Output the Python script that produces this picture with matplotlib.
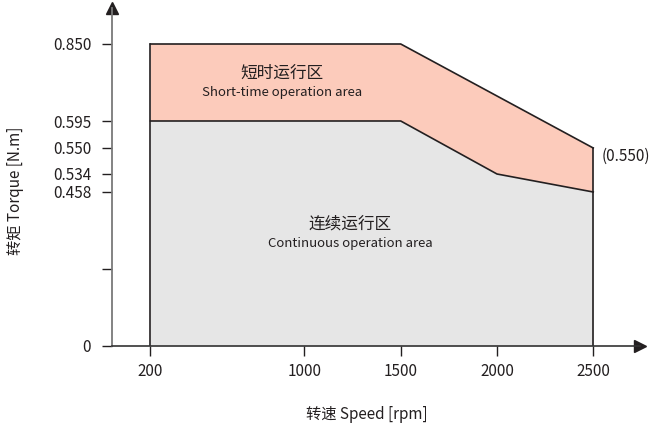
import numpy as np
import matplotlib
matplotlib.use('Agg')
import matplotlib.pyplot as plt

plt.rcParams['font.family'] = ['Noto Sans CJK SC', 'DejaVu Sans']

# data
speed_cont = [200, 1500, 2000, 2500]
torque_cont = [0.595, 0.595, 0.534, 0.458]
speed_short = [200, 1500, 2500]
torque_short = [0.850, 0.850, 0.550]
xticks = [200, 1000, 1500, 2000, 2500]
yticks = [0, 0.23, 0.458, 0.534, 0.550, 0.595, 0.850]
ylabels = ['0', '', '0.458', '0.534', '0.550', '0.595', '0.850']

# the torque axis is drawn schematically, not linear
knot_v = np.array([0, 0.458, 0.534, 0.550, 0.595, 0.850, 1.0])
knot_p = np.array([0, 154, 172, 198, 225, 302, 347])

def fwd(v):
    return np.interp(v, knot_v, knot_p)

def inv(p):
    return np.interp(p, knot_p, knot_v)

fig = plt.figure(figsize=(6.54, 4.29), dpi=100)
ax = fig.add_axes([112/654, 83/429, 528/654, 338/429])
ax.set_yscale('function', functions=(fwd, inv))
ax.set_xlim(0, 2743)
ax.set_ylim(0, inv(338))

ax.fill(speed_short + speed_cont[::-1], torque_short + torque_cont[::-1],
        color='#FCCBBB', lw=0)
ax.fill_between(speed_cont, 0, torque_cont, color='#E6E6E6', lw=0)
edge = dict(color='#231F20', lw=1.2)
ax.plot(speed_short, torque_short, **edge)
ax.plot(speed_cont, torque_cont, **edge)
ax.plot([200, 200], [0, 0.850], **edge)
ax.plot([2500, 2500], [0, 0.550], **edge)

for s in ['top', 'right']:
    ax.spines[s].set_visible(False)
ax.spines['left'].set_color('#7a7a7a')
ax.spines['left'].set_linewidth(1.3)
ax.spines['bottom'].set_color('#333333')
ax.spines['bottom'].set_linewidth(1.2)
ax.plot(1, 0, '>', color='#231F20', ms=9, transform=ax.transAxes, clip_on=False)
ax.plot(0, 1, '^', color='#231F20', ms=9, transform=ax.transAxes, clip_on=False)

ax.set_xticks(xticks)
ax.set_xticklabels([str(v) for v in xticks])
ax.set_yticks(yticks)
ax.set_yticklabels(ylabels)
ax.yaxis.set_minor_locator(plt.NullLocator())
ax.tick_params(axis='both', length=7, width=1, color='#231F20', labelsize=11,
               labelcolor='#231F20')
ax.tick_params(axis='x', pad=5)
ax.tick_params(axis='y', pad=8)

ax.set_xlabel('转速 Speed [rpm]', fontsize=11, color='#231F20', va='center')
ax.xaxis.set_label_coords(0.483, -0.204)
ax.set_ylabel('转矩 Torque [N.m]', fontsize=11, color='#231F20', va='center')
ax.yaxis.set_label_coords(-0.182, 0.46)

ax.text(883, 0.754, '短时运行区', ha='center', va='center', fontsize=12, color='#231F20')
ax.text(883, 0.691, 'Short-time operation area', ha='center', va='center',
        fontsize=9.5, color='#231F20')
ax.text(1236, 0.363, '连续运行区', ha='center', va='center', fontsize=12, color='#231F20')
ax.text(1236, 0.304, 'Continuous operation area', ha='center', va='center',
        fontsize=9.5, color='#231F20')
ax.text(2545, 0.545, '(0.550)', ha='left', va='center', fontsize=11, color='#231F20')

fig.savefig('out.png', dpi=100)
